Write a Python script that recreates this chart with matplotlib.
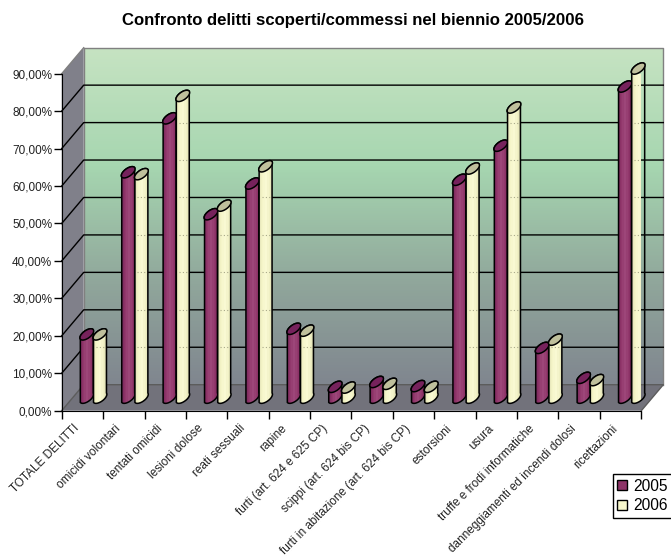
import numpy as np
import matplotlib
matplotlib.use('Agg')
import matplotlib.pyplot as plt
from matplotlib.colors import LinearSegmentedColormap
from matplotlib.patches import Patch, Polygon

plt.rcParams['font.family'] = ['Liberation Sans', 'DejaVu Sans']

categories = ['TOTALE DELITTI', 'omicidi volontari', 'tentati omicidi', 'lesioni dolose',
              'reati sessuali', 'rapine', 'furti (art. 624 e 625 CP)', 'scippi (art. 624 bis CP)',
              'furti in abitazione (art. 624 bis CP)', 'estorsioni', 'usura',
              'truffe e frodi informatiche', 'danneggiamenti ed incendi dolosi', 'ricettazioni']
values_2005 = [16.9, 60.2, 74.6, 49.0, 57.2, 18.4, 2.9, 4.2, 3.1, 58.2, 67.3, 13.3, 5.3, 83.1]
values_2006 = [16.9, 59.7, 80.6, 51.3, 61.8, 17.9, 2.7, 3.7, 2.9, 61.2, 77.5, 15.5, 4.7, 87.9]
y_ticks = [0, 10, 20, 30, 40, 50, 60, 70, 80, 90]
y_labels = ['0,00%', '10,00%', '20,00%', '30,00%', '40,00%', '50,00%', '60,00%', '70,00%', '80,00%', '90,00%']

W, H = 671, 558
fig = plt.figure(figsize=(W / 100, H / 100), dpi=100)
L, R, T, B = 61.7, 641.3, 73.7, 410.7
ax = fig.add_axes([L / W, 1 - B / H, (R - L) / W, (B - T) / H])
n = len(categories)
ax.set_xlim(0, n)
ax.set_ylim(0, 90)

# pixels to data units
sx = n / (R - L)
sy = 90 / (B - T)
dx = 22 * sx
dy = 26 * sy
ymax = 90

# walls and floor
wall = LinearSegmentedColormap.from_list('wall', [(0, '#80868f'), (0.3, '#90a69b'),
                                                  (0.65, '#a6d6b0'), (1, '#c6e3c2')])
grad = np.linspace(1, 0, 200).reshape(-1, 1)
ax.imshow(grad, extent=[dx, n + dx, dy, ymax + dy], cmap=wall, aspect='auto', zorder=0, clip_on=False)
ax.add_patch(Polygon([(0, 0), (dx, dy), (dx, ymax + dy), (0, ymax)], fc='#80808a', ec='none', zorder=1, clip_on=False))
ax.add_patch(Polygon([(0, 0), (n, 0), (n + dx, dy), (dx, dy)], fc='#72727b', ec='none', zorder=1, clip_on=False))
ax.plot([dx, dx, n + dx, n + dx], [dy, ymax + dy, ymax + dy, dy], color='#808080', lw=1, zorder=1.5, clip_on=False)
ax.plot([0, dx], [ymax, ymax + dy], color='#808080', lw=1, zorder=1.5, clip_on=False)
ax.plot([0, dx, n + dx, n], [0, dy, dy, 0], color='#5c5c5c', lw=1, zorder=1.5, clip_on=False)
for v in y_ticks[1:-1]:
    ax.plot([0, dx, n + dx], [v, v + dy, v + dy], color='black', lw=1, zorder=2, clip_on=False)


def ellipse_pts(cx, cy, t):
    # slanted oval, sizes in pixels
    a, b, ang = 8.0, 3.9, np.radians(36)
    px = a * np.cos(t) * np.cos(ang) - b * np.sin(t) * np.sin(ang)
    py = a * np.cos(t) * np.sin(ang) + b * np.sin(t) * np.cos(ang)
    return np.column_stack([cx + px * sx, cy + py * sy])


def cylinder(xc, v, cmap, top_color, z):
    w = 14 * sx
    top = v + dy / 2
    base = dy / 2
    bot = ellipse_pts(xc, base, np.linspace(np.pi, 2 * np.pi, 30))
    cap = ellipse_pts(xc, top, np.linspace(0, np.pi, 30))
    body = np.vstack([bot, cap])
    ax.add_patch(Polygon(body, closed=True, fc='none', ec='black', lw=1.1, zorder=z + 0.2, clip_on=False))
    im = ax.imshow(np.linspace(0, 1, 14).reshape(1, -1), extent=[xc - w * 0.62, xc + w * 0.62, 0, top + dy],
                   cmap=cmap, aspect='auto', zorder=z, interpolation='nearest', clip_on=True)
    im.set_clip_path(Polygon(body, closed=True, transform=ax.transData))
    ax.add_patch(Polygon(ellipse_pts(xc, top, np.linspace(0, 2 * np.pi, 50)), closed=True, fc=top_color,
                         ec='black', lw=1.1, zorder=z + 0.3, clip_on=False))


purple = LinearSegmentedColormap.from_list('p', ['#6f2458', '#8e3468', '#a04a7c', '#8e3468', '#6f2458'])
cream = LinearSegmentedColormap.from_list('c', ['#d8d8b0', '#f4f4c6', '#fbfbd6', '#eeeec0', '#b8b898'])

bw = 6.6 * sx
for i in range(n):
    xc = i + 0.5 + dx / 2
    cylinder(xc - bw, values_2005[i], purple, '#76225c', 3 + i)
    cylinder(xc + bw, values_2006[i], cream, '#bfc09c', 3.5 + i)
    # grid shows faintly through the pale bars
    for g in y_ticks[1:-1]:
        if g + dy < values_2006[i] + dy / 2 - 2:
            ax.plot([xc + bw - 4 * sx, xc + bw + 4 * sx], [g + dy, g + dy], color='#a8a888', lw=0.8,
                    ls=(0, (1, 2)), zorder=3.9 + i)

ax.set_xlim(0, n)
ax.set_ylim(0, 90)

# axes
for s in ['top', 'right']:
    ax.spines[s].set_visible(False)
for s in ['left', 'bottom']:
    ax.spines[s].set_zorder(40)
ax.patch.set_visible(False)
ax.set_yticks(y_ticks)
ax.set_yticklabels(y_labels, fontsize=8.5, color='#222222')
ax.set_xticks(np.arange(n + 1))
ax.set_xticklabels([])
ax.set_xticks(np.arange(n) + 0.5 - 9 * sx, minor=True)
ax.set_xticklabels(categories, minor=True, fontsize=8.5, rotation=45, ha='right', va='top',
                   rotation_mode='anchor', color='#222222')
ax.tick_params(axis='y', length=5.8, width=1, pad=1)
ax.tick_params(axis='x', which='major', length=5.5, width=1)
ax.tick_params(axis='x', which='minor', length=0, pad=8.5)

fig.text(353 / W, 1 - 21 / H, 'Confronto delitti scoperti/commessi nel biennio 2005/2006',
         ha='center', va='center', fontsize=12.1, fontweight='bold')

handles = [Patch(fc='#8e3468', ec='black', label='2005'), Patch(fc='#f8f8cc', ec='black', label='2006')]
fig.legend(handles=handles, loc='lower left', bbox_to_anchor=(612.7 / W, 1 - 518 / H, 70 / W, 46 / H),
           bbox_transform=fig.transFigure, mode='expand',
           fontsize=11.2, frameon=True, fancybox=False, edgecolor='black', framealpha=1, borderaxespad=0,
           handlelength=0.6, handleheight=0.6, handletextpad=0.4, borderpad=0.3, labelspacing=0.3)

fig.savefig('out.png', dpi=100)
